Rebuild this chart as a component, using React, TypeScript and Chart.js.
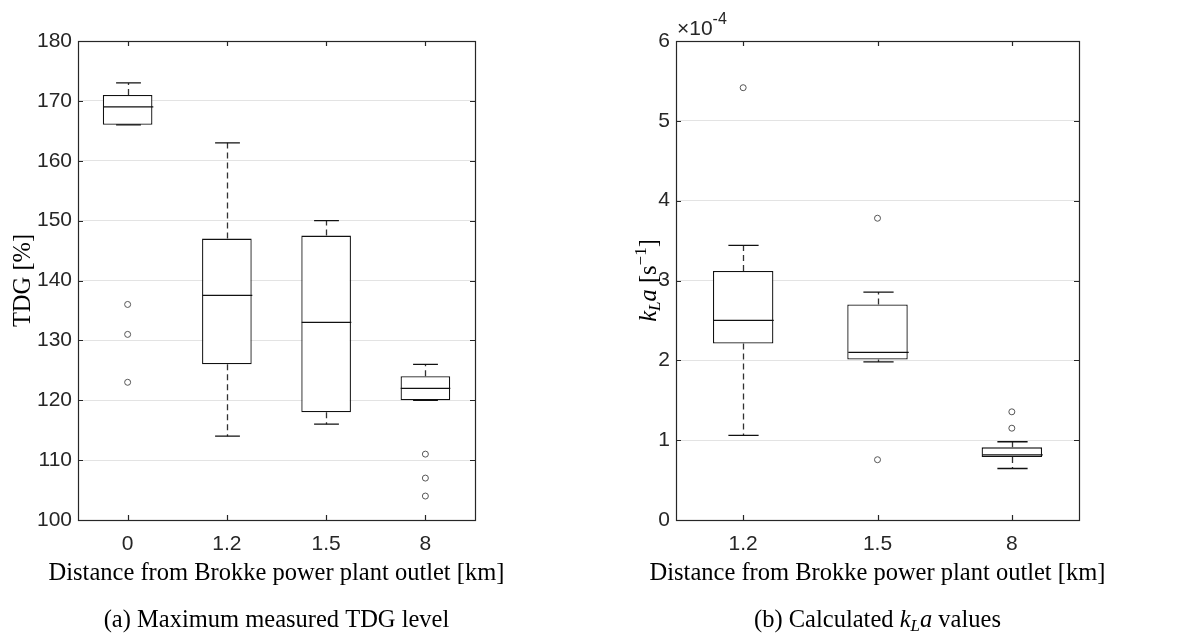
import React, { useEffect, useRef } from 'react';
import { Chart, registerables } from 'chart.js';
Chart.register(...registerables);

// ---------- Data: (a) Maximum measured TDG level [%] ----------
const tdgCategories = ['0', '1.2', '1.5', '8'];
const tdgWhiskerLow = [166, 114, 116, 120];
const tdgQ1 = [166, 126, 118, 120];
const tdgMedian = [169, 137.5, 133, 122];
const tdgQ3 = [171, 147, 147.5, 124];
const tdgWhiskerHigh = [173, 163, 150, 126];
const tdgOutliers = [[136, 131, 123], [], [], [111, 107, 104]];
const tdgTickMin = 100;
const tdgTickMax = 180;
const tdgTickStep = 10;

// ---------- Data: (b) Calculated kLa values [s^-1], in units of 1e-4 ----------
const klaCategories = ['1.2', '1.5', '8'];
const klaWhiskerLow = [1.06, 1.98, 0.645];
const klaQ1 = [2.21, 2.01, 0.79];
const klaMedian = [2.5, 2.1, 0.815];
const klaQ3 = [3.12, 2.7, 0.91];
const klaWhiskerHigh = [3.44, 2.855, 0.98];
const klaOutliers = [[5.415], [3.78, 0.755], [1.355, 1.15]];
const klaTickMin = 0;
const klaTickMax = 6;
const klaTickStep = 1;

const TICK_FONT = '"Liberation Sans", Arial, sans-serif';
const SERIF = '"Liberation Serif", "Times New Roman", serif';
const AXIS_COLOR = '#262626';

const boxPlugin = {
  id: 'boxExtras',
  afterDatasetsDraw(chart: any, _args: any, opts: any) {
    const ctx = chart.ctx;
    const xs = chart.scales.x;
    const ys = chart.scales.y;
    const catW = (xs.right - xs.left) / opts.categories.length;
    ctx.save();
    opts.categories.forEach((c: string, i: number) => {
      const x = Math.round(xs.getPixelForValue(i)) + 0.5;
      const half = (catW * opts.boxFrac) / 2;
      const capHalf = half / 2;
      const yq1 = ys.getPixelForValue(opts.q1[i]);
      const yq3 = ys.getPixelForValue(opts.q3[i]);
      const ylo = ys.getPixelForValue(opts.low[i]);
      const yhi = ys.getPixelForValue(opts.high[i]);
      const ymed = ys.getPixelForValue(opts.median[i]);
      // whiskers (dashed)
      ctx.strokeStyle = '#333';
      ctx.lineWidth = 1.3;
      ctx.setLineDash([6, 4]);
      ctx.beginPath();
      ctx.moveTo(x, yq3);
      ctx.lineTo(x, yhi);
      ctx.moveTo(x, yq1);
      ctx.lineTo(x, ylo);
      ctx.stroke();
      ctx.setLineDash([]);
      // caps
      ctx.strokeStyle = '#111';
      ctx.lineWidth = 1.3;
      ctx.beginPath();
      ctx.moveTo(x - capHalf, yhi);
      ctx.lineTo(x + capHalf, yhi);
      ctx.moveTo(x - capHalf, ylo);
      ctx.lineTo(x + capHalf, ylo);
      ctx.stroke();
      // median
      ctx.strokeStyle = '#111';
      ctx.lineWidth = 1.3;
      ctx.beginPath();
      ctx.moveTo(x - half, ymed);
      ctx.lineTo(x + half, ymed);
      ctx.stroke();
    });
    ctx.restore();
  },
  afterDraw(chart: any, _args: any, opts: any) {
    const ctx = chart.ctx;
    const a = chart.chartArea;
    const xs = chart.scales.x;
    const ys = chart.scales.y;
    ctx.save();
    // axis box
    ctx.strokeStyle = AXIS_COLOR;
    ctx.lineWidth = 1.2;
    ctx.strokeRect(Math.round(a.left) + 0.5, Math.round(a.top) + 0.5, Math.round(a.right - a.left), Math.round(a.bottom - a.top));
    // inner ticks
    const tl = 5;
    ctx.beginPath();
    ys.ticks.forEach((t: any) => {
      const y = Math.round(ys.getPixelForValue(t.value)) + 0.5;
      ctx.moveTo(a.left, y);
      ctx.lineTo(a.left + tl, y);
      ctx.moveTo(a.right, y);
      ctx.lineTo(a.right - tl, y);
    });
    opts.categories.forEach((_c: string, i: number) => {
      const x = Math.round(xs.getPixelForValue(i)) + 0.5;
      ctx.moveTo(x, a.bottom);
      ctx.lineTo(x, a.bottom - tl);
      ctx.moveTo(x, a.top);
      ctx.lineTo(x, a.top + tl);
    });
    ctx.stroke();

    const cx = (a.left + a.right) / 2;
    ctx.fillStyle = '#000';
    ctx.textAlign = 'center';
    ctx.textBaseline = 'middle';
    ctx.font = `24.5px ${SERIF}`;
    ctx.fillText(opts.xTitle, cx, opts.xTitleY);
    // caption
    if (opts.captionParts) {
      drawParts(ctx, opts.captionParts, cx, opts.captionY);
    }
    // y title
    ctx.save();
    ctx.translate(opts.yTitleX, (a.top + a.bottom) / 2);
    ctx.rotate(-Math.PI / 2);
    drawParts(ctx, opts.yTitleParts, 0, 0);
    ctx.restore();
    // exponent label
    if (opts.exponent) {
      ctx.textAlign = 'left';
      ctx.textBaseline = 'alphabetic';
      ctx.fillStyle = '#262626';
      ctx.font = `21px ${TICK_FONT}`;
      const base = a.top - 6;
      const t1 = '\u00d710';
      ctx.fillText(t1, a.left + 1, base);
      const w1 = ctx.measureText(t1).width;
      ctx.font = `16px ${TICK_FONT}`;
      ctx.fillText(opts.exponent, a.left + 1 + w1, base - 11);
    }
    ctx.restore();
  },
};

type Part = { t: string; size: number; italic?: boolean; dy?: number };

function drawParts(ctx: CanvasRenderingContext2D, parts: Part[], cx: number, cy: number) {
  ctx.save();
  ctx.textAlign = 'left';
  ctx.textBaseline = 'alphabetic';
  ctx.fillStyle = '#000';
  let total = 0;
  const widths = parts.map((p) => {
    ctx.font = `${p.italic ? 'italic ' : ''}${p.size}px ${SERIF}`;
    const w = ctx.measureText(p.t).width;
    total += w;
    return w;
  });
  let x = cx - total / 2;
  const baseline = cy + 8;
  parts.forEach((p, i) => {
    ctx.font = `${p.italic ? 'italic ' : ''}${p.size}px ${SERIF}`;
    ctx.fillText(p.t, x, baseline + (p.dy || 0));
    x += widths[i];
  });
  ctx.restore();
}

function buildConfig(o: any) {
  const boxes = o.categories.map((_c: string, i: number) => [o.q1[i], o.q3[i]]);
  const outlierPoints: any[] = [];
  o.outliers.forEach((list: number[], i: number) => {
    list.forEach((v) => outlierPoints.push({ x: o.categories[i], y: v }));
  });
  return {
    type: 'bar',
    data: {
      labels: o.categories,
      datasets: [
        {
          type: 'bar',
          data: boxes,
          backgroundColor: '#ffffff',
          borderColor: '#111111',
          borderWidth: 1.3,
          borderSkipped: false,
          categoryPercentage: 1,
          barPercentage: o.boxFrac,
          order: 2,
        },
        {
          type: 'line',
          data: outlierPoints,
          showLine: false,
          pointRadius: 3,
          pointStyle: 'circle',
          pointBorderColor: '#555',
          pointBackgroundColor: 'rgba(0,0,0,0)',
          pointBorderWidth: 1,
          order: 1,
        },
      ],
    },
    options: {
      animation: false,
      responsive: false,
      events: [],
      layout: { padding: { top: 41, right: o.padRight, left: 0, bottom: 0 } },
      plugins: {
        legend: { display: false },
        tooltip: { enabled: false },
        boxExtras: {
          categories: o.categories,
          q1: o.q1,
          q3: o.q3,
          low: o.low,
          high: o.high,
          median: o.median,
          boxFrac: o.boxFrac,
          xTitle: 'Distance from Brokke power plant outlet [km]',
          xTitleY: 574,
          captionParts: o.captionParts,
          captionY: 619,
          yTitleParts: o.yTitleParts,
          yTitleX: o.yTitleX,
          exponent: o.exponent,
        },
      },
      scales: {
        x: {
          type: 'category',
          offset: true,
          grid: { display: false, drawTicks: false },
          border: { display: false },
          ticks: { color: '#262626', font: { family: TICK_FONT, size: 21 }, padding: 12, maxRotation: 0 },
          afterFit: (s: any) => {
            s.height = 115;
          },
        },
        y: {
          type: 'linear',
          min: o.min,
          max: o.max,
          grid: { color: '#e3e3e3', lineWidth: 1, drawTicks: false },
          border: { display: false },
          ticks: {
            stepSize: o.step,
            color: '#262626',
            font: { family: TICK_FONT, size: 21 },
            padding: 6,
          },
          afterFit: (s: any) => {
            s.width = o.yWidth;
          },
        },
      },
    },
    plugins: [boxPlugin],
  };
}

function BoxChart(props: { config: any; width: number; left: number }) {
  const ref = useRef<HTMLCanvasElement | null>(null);
  useEffect(() => {
    if (!ref.current) return;
    const chart = new Chart(ref.current, props.config);
    return () => chart.destroy();
  }, []);
  return (
    <canvas
      ref={ref}
      width={props.width}
      height={635}
      style={{ position: 'absolute', left: props.left, top: 0, width: props.width, height: 635 }}
    />
  );
}

export default function App() {
  const configA = buildConfig({
    categories: tdgCategories,
    q1: tdgQ1,
    q3: tdgQ3,
    low: tdgWhiskerLow,
    high: tdgWhiskerHigh,
    median: tdgMedian,
    outliers: tdgOutliers,
    min: tdgTickMin,
    max: tdgTickMax,
    step: tdgTickStep,
    boxFrac: 0.5,
    padRight: 118,
    yWidth: 78,
    yTitleX: 22,
    captionParts: [{ t: '(a) Maximum measured TDG level', size: 24.5 }],
    yTitleParts: [{ t: 'TDG [%]', size: 24.5 }],
  });
  const configB = buildConfig({
    categories: klaCategories,
    q1: klaQ1,
    q3: klaQ3,
    low: klaWhiskerLow,
    high: klaWhiskerHigh,
    median: klaMedian,
    outliers: klaOutliers,
    min: klaTickMin,
    max: klaTickMax,
    step: klaTickStep,
    boxFrac: 0.45,
    padRight: 108,
    yWidth: 83,
    yTitleX: 55,
    exponent: '-4',
    captionParts: [
      { t: '(b) Calculated ', size: 24.5 },
      { t: 'k', size: 24.5, italic: true },
      { t: 'L', size: 17, italic: true, dy: 4 },
      { t: 'a', size: 24.5, italic: true },
      { t: ' values', size: 24.5 },
    ],
    yTitleParts: [
      { t: 'k', size: 24.5, italic: true },
      { t: 'L', size: 17, italic: true, dy: 4 },
      { t: 'a', size: 24.5, italic: true },
      { t: ' [s', size: 24.5 },
      { t: '\u22121', size: 17, dy: -10 },
      { t: ']', size: 24.5 },
    ],
  });
  return (
    <div style={{ position: 'absolute', left: 0, top: 0, width: 1187, height: 635, background: '#fff' }}>
      <BoxChart config={configA} width={593} left={0} />
      <BoxChart config={configB} width={594} left={593} />
    </div>
  );
}
